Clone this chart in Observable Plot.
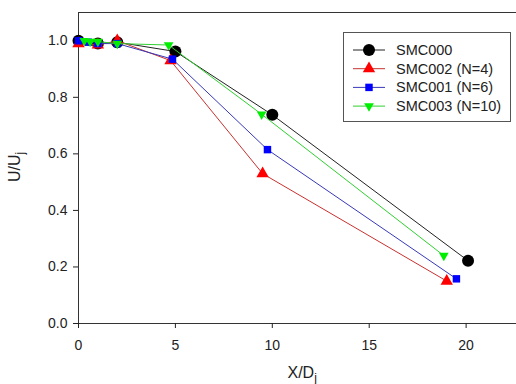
<!DOCTYPE html>
<html>
<head>
<meta charset="utf-8">
<script src="https://cdn.jsdelivr.net/npm/d3@7"></script>
<script src="https://cdn.jsdelivr.net/npm/@observablehq/plot@0.6"></script>
<style>
  body { margin: 0; background: #fff; }
  #wrap { position: relative; width: 516px; height: 384px; overflow: hidden; font-family: "Liberation Sans", Arial, sans-serif; color: #222; }
  .ttl { position: absolute; font-size: 16px; white-space: nowrap; }
  .ttl sub { font-size: 12px; vertical-align: -4px; line-height: 0; }
</style>
</head>
<body>
<div id="wrap"></div>
<script>
// ---- data ----
const seriesNames = ["SMC000", "SMC002 (N=4)", "SMC001 (N=6)", "SMC003 (N=10)"];
const seriesColors = ["#000000", "#ff0000", "#0000ff", "#00ee00"];
const lineColors = ["#222222", "#c83030", "#3838b8", "#30d030"];

const x000 = [0, 1, 2, 5, 10, 20.1];
const y000 = [1.0, 0.99, 0.995, 0.962, 0.738, 0.222];

const x002 = [0, 1, 2, 4.75, 9.5, 19];
const y002 = [0.99, 0.985, 1.0, 0.93, 0.53, 0.15];

const x001 = [0, 0.5, 1, 2, 4.85, 9.75, 19.5];
const y001 = [1.0, 0.995, 0.99, 0.99, 0.935, 0.615, 0.158];

const x003 = [0.3, 0.6, 1, 2, 4.65, 9.45, 18.85];
const y003 = [1.0, 0.997, 0.997, 0.99, 0.985, 0.74, 0.24];

const xTicks = [0, 5, 10, 15, 20];
const yTicks = [0, 0.2, 0.4, 0.6, 0.8, 1.0];
const xTitle = ["X/D", "j"];
const yTitle = ["U/U", "j"];

// ---- symbols ----
const triDown = {
  draw(context, size) {
    const y = Math.sqrt(size / (Math.sqrt(3) * 3));
    context.moveTo(0, 2 * y);
    context.lineTo(-Math.sqrt(3) * y, -y);
    context.lineTo(Math.sqrt(3) * y, -y);
    context.closePath();
  }
};
const symbols = ["circle", "triangle", "square", triDown];
const radii = [6, 4.6, 4.2, 3.6];

const xs = [x000, x002, x001, x003];
const ys = [y000, y002, y001, y003];
const data = xs.map((xArr, i) => xArr.map((x, j) => ({x, y: ys[i][j]})));

const marks = [
  Plot.ruleY([0], {stroke: "#333"}),
  Plot.ruleY([1.1], {stroke: "#333"}),
  Plot.ruleX([0], {stroke: "#333"}),
  Plot.axisX({ticks: xTicks, tickSize: 5, tickPadding: 12, label: null, fontSize: 14}),
  Plot.axisY({ticks: yTicks, tickFormat: d3.format(".1f"), tickSize: 5, tickPadding: 6, label: null, fontSize: 14})
];
data.forEach((d, i) => {
  marks.push(Plot.line(d, {x: "x", y: "y", stroke: lineColors[i], strokeWidth: 1}));
  marks.push(Plot.dot(d, {x: "x", y: "y", symbol: symbols[i], r: radii[i], fill: seriesColors[i], stroke: "none"}));
});

const chart = Plot.plot({
  width: 516,
  height: 384,
  marginLeft: 78,
  marginRight: 0,
  marginTop: 12,
  marginBottom: 61,
  x: {domain: [0, 22.6]},
  y: {domain: [0, 1.1]},
  style: {fontFamily: "Liberation Sans, Arial, sans-serif", fontSize: "14px", color: "#222", background: "#fff"},
  marks
});
const wrap = document.getElementById("wrap");
wrap.appendChild(chart);

// axis titles
const xt = document.createElement("div");
xt.className = "ttl";
xt.innerHTML = xTitle[0] + "<sub>" + xTitle[1] + "</sub>";
xt.style.left = "0px"; xt.style.top = "364px";
wrap.appendChild(xt);
xt.style.left = (302 - xt.offsetWidth / 2) + "px";

const yt = document.createElement("div");
yt.className = "ttl";
yt.innerHTML = yTitle[0] + "<sub>" + yTitle[1] + "</sub>";
wrap.appendChild(yt);
yt.style.left = (15 - yt.offsetWidth / 2) + "px";
yt.style.top = (167 - yt.offsetHeight / 2) + "px";
yt.style.transform = "rotate(-90deg)";

// legend
const lw = 168, lh = 90;
const leg = d3.create("svg")
  .attr("width", lw).attr("height", lh)
  .style("position", "absolute").style("left", "343px").style("top", "32px")
  .style("font-family", "Liberation Sans, Arial, sans-serif");
leg.append("rect").attr("x", 0.5).attr("y", 0.5).attr("width", lw - 1).attr("height", lh - 1)
  .attr("fill", "#fff").attr("stroke", "#555");
seriesNames.forEach((name, i) => {
  const cy = 18 + i * 18.7;
  const g = leg.append("g");
  g.append("line").attr("x1", 10).attr("x2", 42).attr("y1", cy).attr("y2", cy).attr("stroke", lineColors[i]);
  const sym = typeof symbols[i] === "string"
    ? {circle: d3.symbolCircle, triangle: d3.symbolTriangle, square: d3.symbolSquare}[symbols[i]]
    : symbols[i];
  g.append("path").attr("transform", `translate(26,${cy})`)
    .attr("d", d3.symbol(sym, Math.PI * radii[i] * radii[i])())
    .attr("fill", seriesColors[i]);
  g.append("text").attr("x", 53).attr("y", cy).attr("dy", "0.35em")
    .attr("font-size", 14.5).attr("fill", "#222").text(name);
});
wrap.appendChild(leg.node());
</script>
</body>
</html>
